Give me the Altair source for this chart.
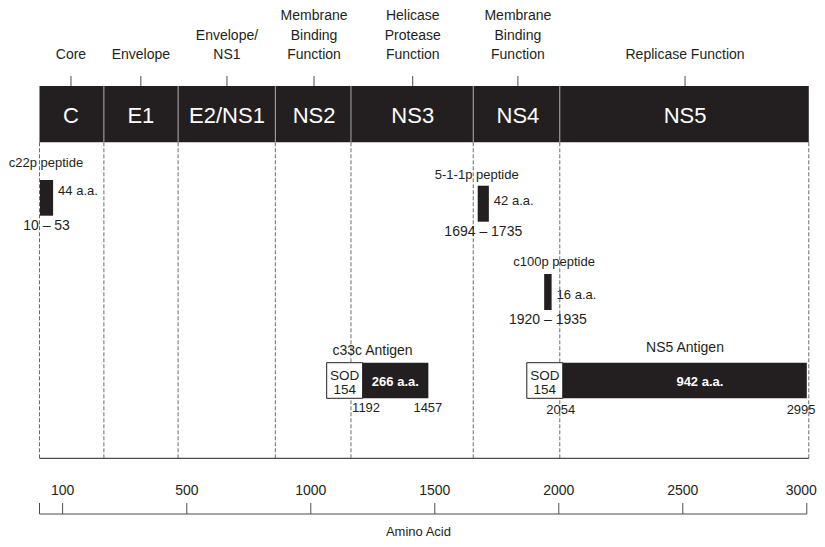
import altair as alt
import pandas as pd

FONT = "Liberation Sans"
INK = "#231f20"
GREY = "#4d4d4d"
DASH = "#6b6b6b"

# ---------------- data (amino-acid positions) ----------------
seg_names = ["C", "E1", "E2/NS1", "NS2", "NS3", "NS4", "NS5"]
seg_bounds = [10, 233, 472, 857, 1162, 1655, 2004, 3008]
seg_mid = [127, 352, 662, 1013, 1411, 1835, 2509]
func_labels = ["Core", "Envelope", "Envelope/\nNS1", "Membrane\nBinding\nFunction",
               "Helicase\nProtease\nFunction", "Membrane\nBinding\nFunction",
               "Replicase Function"]

axis_ticks = [10, 100, 500, 1000, 1500, 2000, 2500, 3000]
axis_labels = ["", "100", "500", "1000", "1500", "2000", "2500", "3000"]
axis_title = "Amino Acid"
axis_title_x = 1434

pep_names = ["c22p peptide", "5-1-1p peptide", "c100p peptide"]
pep_first = [10, 1694, 1920]
pep_last = [53, 1735, 1935]
pep_len = [44, 42, 16]
pep_start_drawn = [12, 1673, 1941]
pep_end_drawn = [63, 1718, 1971]
pep_name_x = [35, 1669, 1981]

ant_names = ["c33c Antigen", "NS5 Antigen"]
ant_sod = [154, 154]
ant_sod_start = [1064, 1871]
ant_start = [1209, 2016]
ant_end = [1474, 3000]
ant_first = [1192, 2054]
ant_last = [1457, 2995]
ant_len = [266, 942]
ant_name_x = [1249, 2509]
ant_len_x = [1341, 2569]
ant_first_x = [1223, 2008]
ant_last_x = [1472, 2995]

# ---------------- layout (vertical tracks, in pixels from top of plot) ----------------
BAR_TOP, BAR_BOT = 78, 134.3
BAR_TEXT_Y = 114.7
FUNC_BASE_Y, FUNC_LH = 51.3, 19.5
FUNC_TICK_TOP = 68
AXIS_LINE_Y = 450.3
pep_top = [172, 177.7, 266]
pep_bot = [207.7, 213.7, 302]
pep_name_y = [158.7, 170.5, 258]
pep_len_y = [187, 197, 291]
pep_range_y = [222, 227.7, 316]
ANT_TOP, ANT_BOT = 354.7, 390.3
ant_name_y = [347, 344]
ant_num_y = [404, 406]
SOD_BASE_Y = [372, 386]
SCALE_LINE_Y = 506
SCALE_TICK_TOP = 495
SCALE_LABEL_Y = 487
SCALE_TITLE_Y = 528
PLOT_H = 531
EDGE_DX = 10  # right-edge labels kept inside the canvas

XS = alt.Scale(domain=[10, 100, 500, 3000], range=[0, 23.1, 147.3, 767.3],
               nice=False, zero=False)
YS = alt.Scale(domain=[0, PLOT_H], reverse=True, nice=False, zero=False)


def X(field):
    return alt.X(field, type="quantitative", scale=XS, axis=None)


def Yd(v):
    return alt.Y(datum=v, scale=YS, axis=None)


def Yf(field):
    return alt.Y(field, type="quantitative", scale=YS, axis=None)


def txt(df, size=14, color=INK, align="center", baseline="alphabetic", **kw):
    return alt.Chart(df).mark_text(color=color, font=FONT, fontSize=size, align=align,
                                   baseline=baseline, **kw)


# ---------------- tables ----------------
df_bounds = pd.DataFrame({"x": seg_bounds})
df_inner = pd.DataFrame({"x": seg_bounds[1:-1]})
df_seg = pd.DataFrame({"name": seg_names, "start": seg_bounds[:-1],
                       "end": seg_bounds[1:], "mid": seg_mid})
rows = []
for lab, m in zip(func_labels, seg_mid):
    lines = lab.split("\n")
    for k, line in enumerate(reversed(lines)):
        rows.append({"mid": m, "line": line, "y": FUNC_BASE_Y - FUNC_LH * k})
df_func = pd.DataFrame(rows)

df_ticks = pd.DataFrame({"v": axis_ticks, "lab": axis_labels})
df_ticks_inner = df_ticks.iloc[:-1]
df_ticks_last = df_ticks.iloc[-1:]

df_pep = pd.DataFrame({
    "name": pep_names, "start": pep_start_drawn, "end": pep_end_drawn,
    "name_x": pep_name_x,
    "len": [f"{n} a.a." for n in pep_len],
    "range": [f"{a} \u2013 {b}" for a, b in zip(pep_first, pep_last)],
    "top": pep_top, "bot": pep_bot, "name_y": pep_name_y,
    "len_y": pep_len_y, "range_y": pep_range_y,
})

df_ant = pd.DataFrame({
    "name": ant_names, "sod_start": ant_sod_start, "start": ant_start,
    "end": ant_end, "name_x": ant_name_x, "len_x": ant_len_x,
    "len": [f"{n} a.a." for n in ant_len], "name_y": ant_name_y,
})
rows = []
for s, e, sod in zip(ant_sod_start, ant_start, ant_sod):
    for line, yy in zip(["SOD", str(sod)], SOD_BASE_Y):
        rows.append({"x": (s + e) / 2, "line": line, "y": yy})
df_sod = pd.DataFrame(rows)
rows = []
for fx, f, lx, l, yy in zip(ant_first_x, ant_first, ant_last_x, ant_last, ant_num_y):
    rows.append({"x": fx, "t": str(f), "y": yy, "edge": False})
    rows.append({"x": lx, "t": str(l), "y": yy, "edge": lx > 2900})
df_num = pd.DataFrame(rows)

# ---------------- layers ----------------
dashed = alt.Chart(df_bounds).mark_rule(color=DASH, strokeWidth=1, strokeDash=[4, 2]).encode(
    x=X("x"), y=Yd(BAR_BOT), y2=alt.Y2(datum=AXIS_LINE_Y))

extent = pd.DataFrame({"a": [seg_bounds[0]], "b": [seg_bounds[-1]],
                       "c": [axis_ticks[0]], "d": [axis_ticks[-1]]})
baseline = alt.Chart(extent).mark_rule(color=GREY, strokeWidth=1.2).encode(
    x=X("a"), x2="b", y=Yd(AXIS_LINE_Y))

# amino-acid scale bar (ticks up, labels above)
scale_line = alt.Chart(extent).mark_rule(color=GREY, strokeWidth=1.2).encode(
    x=X("c"), x2="d", y=Yd(SCALE_LINE_Y))
scale_ticks = alt.Chart(df_ticks).mark_rule(color=GREY, strokeWidth=1).encode(
    x=X("v"), y=Yd(SCALE_TICK_TOP), y2=alt.Y2(datum=SCALE_LINE_Y))
scale_labels = txt(df_ticks_inner).encode(x=X("v"), y=Yd(SCALE_LABEL_Y), text="lab")
scale_label_last = txt(df_ticks_last, align="right", dx=EDGE_DX).encode(
    x=X("v"), y=Yd(SCALE_LABEL_Y), text="lab")
scale_title = txt(pd.DataFrame({"t": [axis_title], "x": [axis_title_x]}), size=13).encode(
    x=X("x"), y=Yd(SCALE_TITLE_Y), text="t")

segs = alt.Chart(df_seg).mark_rect(fill=INK).encode(
    x=X("start"), x2="end", y=Yd(BAR_TOP), y2=alt.Y2(datum=BAR_BOT))
seps = alt.Chart(df_inner).mark_rule(color="#a8a8a8", strokeWidth=1).encode(
    x=X("x"), y=Yd(BAR_TOP), y2=alt.Y2(datum=BAR_BOT))
seg_text = txt(df_seg, size=22, color="white").encode(
    x=X("mid"), y=Yd(BAR_TEXT_Y), text="name")
func_ticks = alt.Chart(df_seg).mark_rule(color=GREY, strokeWidth=1).encode(
    x=X("mid"), y=Yd(FUNC_TICK_TOP), y2=alt.Y2(datum=BAR_TOP))
func_text = txt(df_func).encode(x=X("mid"), y=Yf("y"), text="line")

pep_box = alt.Chart(df_pep).mark_rect(fill=INK).encode(
    x=X("start"), x2="end", y=Yf("top"), y2="bot")
pep_name = txt(df_pep, size=13).encode(x=X("name_x"), y=Yf("name_y"), text="name")
pep_len_t = txt(df_pep, size=13, align="left", dx=5).encode(
    x=X("end"), y=Yf("len_y"), text="len")
pep_range = txt(df_pep).transform_calculate(mid="(datum.start + datum.end) / 2").encode(
    x=X("mid"), y=Yf("range_y"), text="range")

sod_box = alt.Chart(df_ant).mark_rect(fill="white", stroke=INK, strokeWidth=1).encode(
    x=X("sod_start"), x2="start", y=Yd(ANT_TOP), y2=alt.Y2(datum=ANT_BOT))
ant_box = alt.Chart(df_ant).mark_rect(fill=INK).encode(
    x=X("start"), x2="end", y=Yd(ANT_TOP), y2=alt.Y2(datum=ANT_BOT))
ant_name = txt(df_ant).encode(x=X("name_x"), y=Yf("name_y"), text="name")
sod_text = txt(df_sod, size=13.5).encode(x=X("x"), y=Yf("y"), text="line")
ant_len_t = txt(df_ant, size=13, color="white", baseline="middle", fontWeight="bold").encode(
    x=X("len_x"), y=Yd((ANT_TOP + ANT_BOT) / 2 + 1.5), text="len")
ant_nums = txt(df_num[~df_num["edge"]], size=13).encode(x=X("x"), y=Yf("y"), text="t")
ant_nums_edge = txt(df_num[df_num["edge"]], size=13, align="right", dx=EDGE_DX).encode(
    x=X("x"), y=Yf("y"), text="t")

chart = alt.layer(
    dashed, baseline, scale_line, scale_ticks, scale_labels, scale_label_last, scale_title,
    segs, seps, seg_text, func_ticks, func_text,
    pep_box, pep_name, pep_len_t, pep_range,
    sod_box, ant_box, ant_name, sod_text, ant_len_t, ant_nums, ant_nums_edge,
).properties(
    width=768, height=PLOT_H,
    autosize=alt.AutoSizeParams(type="none"),
    padding={"left": 31.5, "top": 0, "right": 9.5, "bottom": 0},
).configure_view(stroke=None)

chart.save("out.html", embed_options={"renderer": "svg", "actions": False})
